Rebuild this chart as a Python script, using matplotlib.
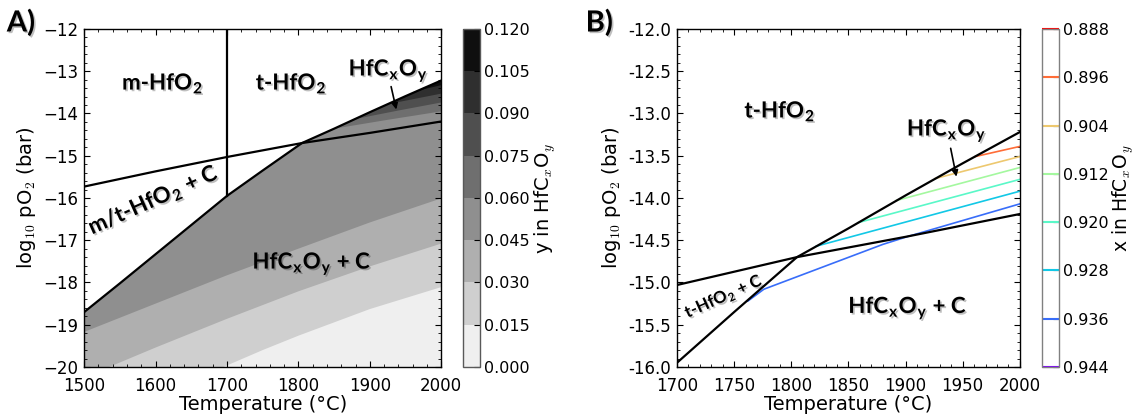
"""HfO2 / HfCxOy stability diagrams: y (left) and x (right) in HfCxOy."""

import matplotlib
matplotlib.use('Agg')
import matplotlib.pyplot as plt
import matplotlib.patheffects as pe
from matplotlib.cm import ScalarMappable
from matplotlib.colors import BoundaryNorm, ListedColormap, Normalize
from matplotlib.ticker import AutoMinorLocator, FormatStrFormatter, MultipleLocator

plt.rcParams.update({
    'font.family': 'DejaVu Sans',
    'font.size': 12,
    'mathtext.fontset': 'custom',
    'mathtext.rm': 'cmr10',
    'mathtext.it': 'cmmi10',
    'mathtext.bf': 'Lato:bold',
    'xtick.direction': 'in',
    'ytick.direction': 'in',
    'xtick.top': True,
    'ytick.right': True,
    'xtick.major.size': 4,
    'ytick.major.size': 4,
    'xtick.minor.size': 2,
    'ytick.minor.size': 2,
    'xtick.major.pad': 7,
    'ytick.major.pad': 4,
    'xtick.minor.visible': True,
    'ytick.minor.visible': True,
    'axes.linewidth': 1.0,
})

# --- phase boundaries (log10 pO2 in bar vs temperature in degC) ---
# t/m-HfO2 (+C) | HfCxOy (+C)
STEEP_T = [1500, 1550, 1600, 1650, 1700, 1750, 1805, 1850, 1900, 1950, 2000]
STEEP_P = [-18.70, -18.02, -17.33, -16.64, -15.95, -15.35, -14.70, -14.36, -13.97, -13.59, -13.22]
# carbon saturation
CARBON_T = [1500, 1600, 1700, 1805, 1900, 2000]
CARBON_P = [-15.73, -15.37, -15.03, -14.70, -14.46, -14.19]
# monoclinic / tetragonal
MT_T = [1700, 1700]
MT_P = [-12.0, -15.95]

# --- y in HfCxOy: filled levels ---
Y_LEVELS = [0.000, 0.015, 0.030, 0.045, 0.060, 0.075, 0.090, 0.105, 0.120]
# level lines below the carbon line (cross the whole range)
Y_LOW_LEVELS = [0.045, 0.030, 0.015]
Y_LOW_T = [[1500, 1600, 1700, 1800, 1900, 2000],
           [1535, 1600, 1700, 1800, 1900, 2000],
           [1695, 1750, 1800, 1900, 2000]]
Y_LOW_P = [[-19.17, -18.50, -17.83, -17.20, -16.58, -16.01],
           [-20.00, -19.54, -18.86, -18.21, -17.62, -17.08],
           [-20.00, -19.60, -19.26, -18.63, -18.11]]
# level lines that start on the steep boundary
Y_HIGH_LEVELS = [0.105, 0.090, 0.075, 0.060]
Y_HIGH_T = [[1967, 2000], [1925, 2000], [1880, 1940, 2000], [1850, 1925, 2000]]
Y_HIGH_P = [[-13.46, -13.33], [-13.78, -13.53], [-14.13, -13.93, -13.74], [-14.36, -14.15, -13.95]]

# --- x in HfCxOy: contour lines ---
X_TICKS = [0.888, 0.896, 0.904, 0.912, 0.920, 0.928, 0.936, 0.944]
X_LINE_LEVELS = [0.896, 0.904, 0.912, 0.920, 0.928, 0.936]
X_LINE_T = [[1961, 2000], [1926, 2000], [1892, 2000], [1859, 2000], [1822, 2000],
            [1762, 1776, 1880, 1901, 2000]]
X_LINE_P = [[-13.51, -13.39], [-13.77, -13.51], [-14.03, -13.64], [-14.29, -13.78],
            [-14.57, -13.92], [-15.22, -15.08, -14.55, -14.46, -14.07]]

BAND_COLORS = [plt.cm.gray_r((i + 0.5) / 8) for i in range(8)]
LABEL_FONT = 'Lato'
SHADOW = [pe.SimplePatchShadow(offset=(1.2, -1.2), alpha=0.25), pe.Normal()]


def x_color(level):
    return plt.cm.rainbow((X_TICKS[-1] - level) / (X_TICKS[-1] - X_TICKS[0]))


def lower_polygon(ts, ps, ax, color):
    """Fill everything below the given boundary."""
    xs = list(ts) + [ts[-1], ts[0]]
    ys = list(ps) + [-21.0, -21.0]
    ax.fill(xs, ys, color=color, lw=0, zorder=1)


def label(ax, x, y, s, size=16, rot=0):
    ax.text(x, y, s, fontsize=size, fontweight='bold', family=LABEL_FONT,
            ha='center', va='center', rotation=rot, zorder=5, path_effects=SHADOW)


def style_axes(ax):
    ax.xaxis.set_minor_locator(AutoMinorLocator())
    ax.yaxis.set_minor_locator(AutoMinorLocator())
    ax.set_xlabel('Temperature (°C)', fontsize=14, labelpad=0)
    ax.set_ylabel(r'log$_{10}$ pO$_2$ (bar)', fontsize=14, labelpad=4)


fig = plt.figure(figsize=(11.35, 4.17), dpi=100)
ax1 = fig.add_axes([0.0742, 0.12, 0.3145, 0.8105])
cax1 = fig.add_axes([0.408, 0.12, 0.015, 0.8105])
ax2 = fig.add_axes([0.5965, 0.12, 0.302, 0.8105])
cax2 = fig.add_axes([0.918, 0.12, 0.015, 0.8105])

# ---------------- panel A ----------------
lower_polygon(STEEP_T, STEEP_P, ax1, BAND_COLORS[7])
for k, (ts, ps) in enumerate(zip(Y_HIGH_T, Y_HIGH_P)):
    head_t = [t for t in STEEP_T if t < ts[0]]
    head_p = STEEP_P[:len(head_t)]
    lower_polygon(head_t + ts, head_p + ps, ax1, BAND_COLORS[6 - k])
for k, (ts, ps) in enumerate(zip(Y_LOW_T, Y_LOW_P)):
    lower_polygon(ts, ps, ax1, BAND_COLORS[2 - k])

ax1.plot(STEEP_T, STEEP_P, color='k', lw=1.6, zorder=3)
ax1.plot(CARBON_T, CARBON_P, color='k', lw=1.6, zorder=3)
ax1.plot(MT_T, MT_P, color='k', lw=1.6, zorder=3)
ax1.set_xlim(1500, 2000)
ax1.set_ylim(-20, -12)
ax1.xaxis.set_major_locator(MultipleLocator(100))
ax1.yaxis.set_major_locator(MultipleLocator(1))
style_axes(ax1)

label(ax1, 1610, -13.28, r'm-HfO$_\mathbf{2}$')
label(ax1, 1790, -13.28, r't-HfO$_\mathbf{2}$')
label(ax1, 1597, -16.05, r'm/t-HfO$_\mathbf{2}$ + C', rot=24)
label(ax1, 1819, -17.55, r'HfC$_\mathbf{x}$O$_\mathbf{y}$ + C')
label(ax1, 1926, -12.98, r'HfC$_\mathbf{x}$O$_\mathbf{y}$')
ax1.annotate('', xy=(1938, -13.97), xytext=(1929, -13.3),
             arrowprops=dict(arrowstyle='-|>', color='k', lw=1.2, mutation_scale=9),
             zorder=5)

cmap_y = ListedColormap(BAND_COLORS)
sm_y = ScalarMappable(norm=BoundaryNorm(Y_LEVELS, 8), cmap=cmap_y)
cb1 = fig.colorbar(sm_y, cax=cax1, ticks=Y_LEVELS)
cb1.ax.yaxis.set_major_formatter(FormatStrFormatter('%.3f'))
cb1.ax.minorticks_off()
cb1.ax.tick_params(labelsize=11.5, pad=3)
cb1.outline.set_edgecolor('0.35')
cb1.set_label(r'y in HfC$_x$O$_y$', fontsize=14, labelpad=2)

# ---------------- panel B ----------------
ax2.plot(STEEP_T, STEEP_P, color='k', lw=1.6, zorder=3)
ax2.plot(CARBON_T, CARBON_P, color='k', lw=1.6, zorder=3)
for lev, ts, ps in zip(X_LINE_LEVELS, X_LINE_T, X_LINE_P):
    ax2.plot(ts, ps, color=x_color(lev), lw=1.2, zorder=2)
ax2.set_xlim(1700, 2000)
ax2.set_ylim(-16, -12)
ax2.xaxis.set_major_locator(MultipleLocator(50))
ax2.yaxis.set_major_locator(MultipleLocator(0.5))
ax2.yaxis.set_major_formatter(FormatStrFormatter('%.1f'))
style_axes(ax2)

label(ax2, 1790, -12.97, r't-HfO$_\mathbf{2}$')
label(ax2, 1936, -13.2, r'HfC$_\mathbf{x}$O$_\mathbf{y}$')
label(ax2, 1741, -15.17, r't-HfO$_\mathbf{2}$ + C', size=12, rot=24)
label(ax2, 1902, -15.3, r'HfC$_\mathbf{x}$O$_\mathbf{y}$ + C')
ax2.annotate('', xy=(1945, -13.78), xytext=(1939, -13.38),
             arrowprops=dict(arrowstyle='-|>', color='k', lw=1.2, mutation_scale=9),
             zorder=5)

sm_x = ScalarMappable(norm=Normalize(X_TICKS[0], X_TICKS[-1]), cmap=ListedColormap(['white']))
cb2 = fig.colorbar(sm_x, cax=cax2, ticks=X_TICKS)
cb2.add_lines(X_TICKS, [x_color(v) for v in X_TICKS], [1.5] * len(X_TICKS))
cb2.ax.invert_yaxis()
cb2.ax.yaxis.set_major_formatter(FormatStrFormatter('%.3f'))
cb2.ax.minorticks_off()
cb2.ax.tick_params(labelsize=11.5, pad=3)
cb2.outline.set_edgecolor('0.5')
cb2.set_label(r'x in HfC$_x$O$_y$', fontsize=13.5, labelpad=1)

fig.text(0.006, 0.945, 'A)', fontsize=21, fontweight='bold', family=LABEL_FONT,
         va='center', path_effects=SHADOW)
fig.text(0.516, 0.945, 'B)', fontsize=21, fontweight='bold', family=LABEL_FONT,
         va='center', path_effects=SHADOW)

fig.savefig('out.png', dpi=100)
